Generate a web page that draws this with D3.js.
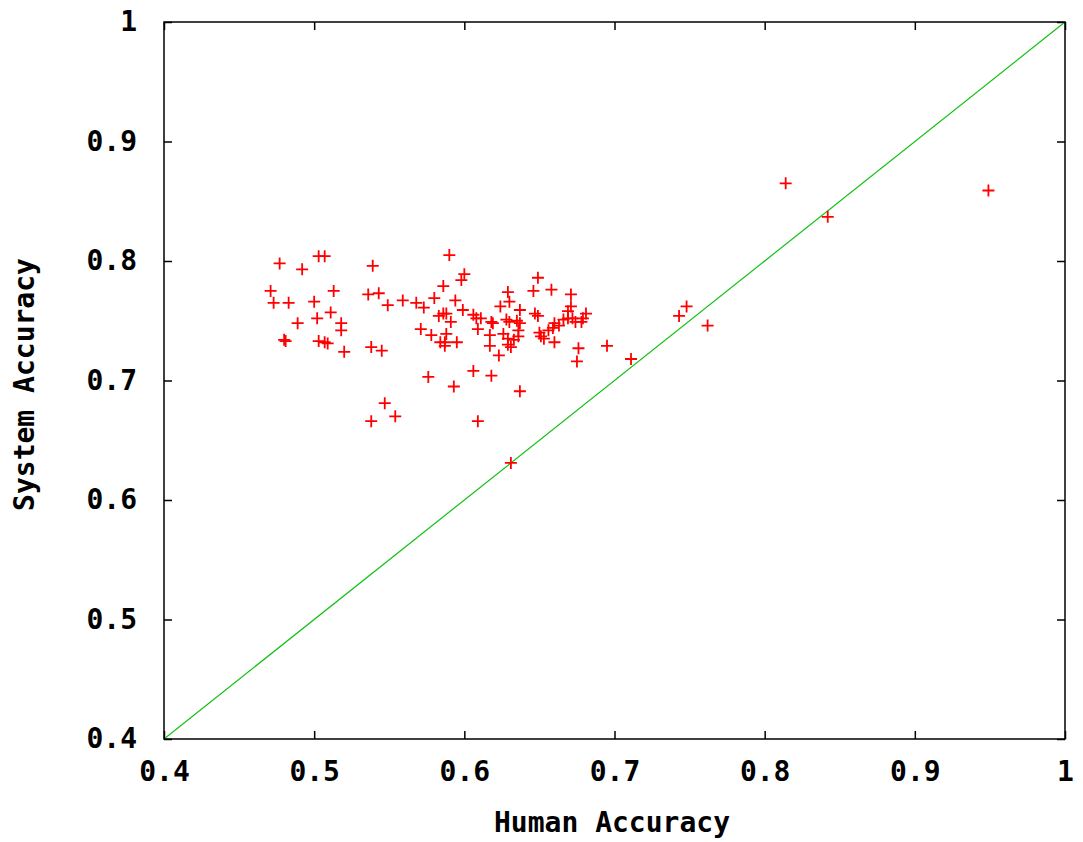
<!DOCTYPE html>
<html>
<head>
<meta charset="utf-8">
<script src="https://cdn.jsdelivr.net/npm/d3@7"></script>
<style>
	body { margin: 0; background: #fff; }
	svg text { font-family: "DejaVu Sans Mono", monospace; font-weight: bold; fill: #000; }
</style>
</head>
<body>
<div id="chart"></div>
<script>
// human accuracy (x) vs system accuracy (y), one entry per point
var humanAcc = [
	0.471, 0.473, 0.477, 0.480, 0.481, 0.483, 0.489, 0.492, 0.500, 0.502,
	0.503, 0.507, 0.503, 0.507, 0.509, 0.511, 0.513, 0.518, 0.518, 0.520,
	0.536, 0.539, 0.543, 0.549, 0.538, 0.545, 0.547, 0.554, 0.538, 0.559,
	0.568, 0.573, 0.571, 0.576, 0.578, 0.580, 0.583, 0.586, 0.588, 0.586,
	0.590, 0.594, 0.591, 0.588, 0.584, 0.587, 0.587, 0.595, 0.593, 0.600,
	0.598, 0.599, 0.606, 0.609, 0.606, 0.608, 0.611, 0.609, 0.618, 0.619,
	0.617, 0.617, 0.618, 0.623, 0.624, 0.629, 0.630, 0.628, 0.630, 0.626,
	0.629, 0.633, 0.629, 0.631, 0.635, 0.637, 0.637, 0.636, 0.636, 0.637,
	0.631, 0.649, 0.646, 0.647, 0.649, 0.650, 0.651, 0.653, 0.658, 0.660,
	0.663, 0.659, 0.656, 0.660, 0.666, 0.669, 0.671, 0.671, 0.669, 0.672,
	0.674, 0.679, 0.678, 0.681, 0.676, 0.675, 0.695, 0.711, 0.743, 0.748,
	0.762, 0.814, 0.842, 0.949
];
var systemAcc = [
	0.775, 0.765, 0.798, 0.734, 0.733, 0.765, 0.748, 0.793, 0.766, 0.752,
	0.804, 0.804, 0.733, 0.732, 0.731, 0.757, 0.775, 0.748, 0.742, 0.724,
	0.772, 0.796, 0.773, 0.763, 0.728, 0.725, 0.681, 0.670, 0.666, 0.767,
	0.765, 0.761, 0.743, 0.703, 0.738, 0.769, 0.754, 0.756, 0.756, 0.779,
	0.805, 0.767, 0.749, 0.739, 0.732, 0.732, 0.729, 0.732, 0.695, 0.789,
	0.784, 0.759, 0.708, 0.666, 0.755, 0.752, 0.752, 0.743, 0.749, 0.748,
	0.738, 0.729, 0.704, 0.721, 0.762, 0.774, 0.766, 0.751, 0.749, 0.739,
	0.735, 0.734, 0.730, 0.728, 0.750, 0.748, 0.759, 0.742, 0.737, 0.691,
	0.631, 0.786, 0.775, 0.756, 0.754, 0.740, 0.737, 0.735, 0.776, 0.748,
	0.746, 0.744, 0.742, 0.732, 0.751, 0.758, 0.762, 0.772, 0.752, 0.752,
	0.749, 0.752, 0.749, 0.756, 0.727, 0.716, 0.729, 0.718, 0.754, 0.762,
	0.746, 0.865, 0.837, 0.859
];
// y = x reference line
var diagonal = [[0.4, 0.4], [1, 1]];

var tickValues = [0.4, 0.5, 0.6, 0.7, 0.8, 0.9, 1];
var tickLabels = ['0.4', '0.5', '0.6', '0.7', '0.8', '0.9', '1'];
var xTitle = 'Human Accuracy';
var yTitle = 'System Accuracy';

var W = 1083, H = 842;
var margin = {top: 22, right: 18, bottom: 103, left: 164};
var width = W - margin.left - margin.right,
	height = H - margin.top - margin.bottom;

var svg = d3.select('#chart')
	.append('svg')
	.attr('width', W)
	.attr('height', H);

var g = svg.append('g')
	.attr('transform', 'translate(' + margin.left + ',' + margin.top + ')');

var x = d3.scaleLinear().domain([0.4, 1]).range([0, width]);
var y = d3.scaleLinear().domain([0.4, 1]).range([height, 0]);

var fmt = function(d) { return tickLabels[tickValues.indexOf(d)]; };

// axes with inward ticks, mirrored on top/right
g.append('g')
	.attr('transform', 'translate(0,' + height + ')')
	.call(d3.axisBottom(x).tickValues(tickValues).tickFormat(fmt).tickSize(-8).tickPadding(22))
	.call(function(a) { a.select('.domain').remove(); a.selectAll('text').style('font-size', '28px'); });

g.append('g')
	.call(d3.axisLeft(y).tickValues(tickValues).tickFormat(fmt).tickSize(-8).tickPadding(27))
	.call(function(a) { a.select('.domain').remove(); a.selectAll('text').style('font-size', '28px'); });

g.append('g')
	.call(d3.axisTop(x).tickValues(tickValues).tickFormat('').tickSize(-8))
	.call(function(a) { a.select('.domain').remove(); });

g.append('g')
	.attr('transform', 'translate(' + width + ',0)')
	.call(d3.axisRight(y).tickValues(tickValues).tickFormat('').tickSize(-8))
	.call(function(a) { a.select('.domain').remove(); });

g.selectAll('.tick line').attr('stroke', '#000').attr('stroke-width', 1.5);

// diagonal
g.append('path')
	.datum(diagonal)
	.attr('fill', 'none')
	.attr('stroke', '#11c011')
	.attr('stroke-width', 1.2)
	.attr('d', d3.line().x(function(d) { return x(d[0]); }).y(function(d) { return y(d[1]); }));

// points as "+" marks
g.selectAll('path.pt')
	.data(d3.range(humanAcc.length))
	.enter()
	.append('path')
	.attr('class', 'pt')
	.attr('transform', function(i) { return 'translate(' + x(humanAcc[i]) + ',' + y(systemAcc[i]) + ')'; })
	.attr('d', 'M-6,0H6M0,-6V6')
	.attr('fill', 'none')
	.attr('stroke', '#ff0000')
	.attr('stroke-width', 1.8);

// frame
g.append('rect')
	.attr('width', width)
	.attr('height', height)
	.attr('fill', 'none')
	.attr('stroke', '#000')
	.attr('stroke-width', 1.5);

// titles
svg.append('text')
	.attr('x', 612)
	.attr('y', 832)
	.attr('text-anchor', 'middle')
	.style('font-size', '28px')
	.text(xTitle);

svg.append('text')
	.attr('transform', 'translate(34,' + (margin.top + height / 2 + 4) + ') rotate(-90)')
	.attr('text-anchor', 'middle')
	.style('font-size', '28px')
	.text(yTitle);
</script>
</body>
</html>
